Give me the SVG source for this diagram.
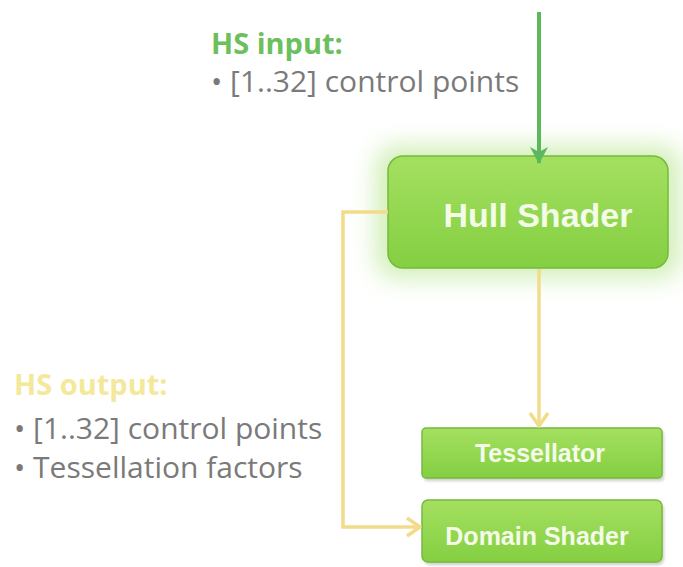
<svg xmlns="http://www.w3.org/2000/svg" width="683" height="567" viewBox="0 0 683 567">
<defs>
<linearGradient id="g" x1="0" y1="0" x2="0" y2="1">
<stop offset="0" stop-color="#a4e060"/>
<stop offset="1" stop-color="#84cf42"/>
</linearGradient>
<filter id="glow" x="-30%" y="-40%" width="160%" height="180%">
<feGaussianBlur stdDeviation="12"/>
</filter>
<filter id="sh" x="-10%" y="-20%" width="120%" height="150%">
<feGaussianBlur stdDeviation="1.5"/>
</filter>
<marker id="ay" markerWidth="20" markerHeight="22" refX="15" refY="11" orient="auto" markerUnits="userSpaceOnUse">
<path d="M2,2 L15,11 L2,20" fill="none" stroke="#f2dc8c" stroke-width="3.5" stroke-linejoin="round"/>
</marker>
<marker id="ag" markerWidth="20" markerHeight="22" refX="16" refY="11" orient="auto" markerUnits="userSpaceOnUse">
<path d="M0,2 L17,11 L0,20 L5,11 Z" fill="#5cb85c"/>
</marker>
</defs>
<style>
.box{fill:url(#g);stroke:#78b83e;stroke-width:1.5}
.lbl{font-family:"Liberation Sans",Arial,sans-serif;font-weight:bold;fill:#f4fbe8;text-anchor:middle}
.txt{font-family:"Open Sans","Liberation Sans",sans-serif;font-size:30px;fill:#7a7a7a}
.yl{fill:none;stroke:#f2dc8c;stroke-width:3.5}
</style>
<rect width="683" height="567" fill="#ffffff"/>
<text x="211" y="54" font-family="Open Sans, Liberation Sans, sans-serif" font-size="29" font-weight="bold" fill="#6cbf5c">HS input:</text>
<text class="txt" x="211" y="92">• [1..32] control points</text>
<text x="14" y="395" font-family="Open Sans, Liberation Sans, sans-serif" font-size="29" font-weight="bold" fill="#f4e89a">HS output:</text>
<text class="txt" x="14" y="439">• [1..32] control points</text>
<text class="txt" x="14" y="478">• Tessellation factors</text>
<g id="hull">
<rect x="376" y="146" width="304" height="132" rx="20" fill="#c8eca8" opacity="0.85" filter="url(#glow)"/>
<rect class="box" x="388" y="156" width="280" height="112" rx="15"/>
<text class="lbl" x="538" y="227" font-size="34">Hull Shader</text>
</g>
<g id="tessellator">
<rect x="424" y="431" width="240" height="50" rx="4" fill="#9aa08a" opacity="0.5" filter="url(#sh)"/>
<rect class="box" x="422" y="428" width="240" height="50" rx="4"/>
<text class="lbl" x="540" y="462" font-size="25">Tessellator</text>
</g>
<g id="domain">
<rect x="424" y="503" width="240" height="62" rx="6" fill="#9aa08a" opacity="0.5" filter="url(#sh)"/>
<rect class="box" x="422" y="500" width="240" height="62" rx="6"/>
<text class="lbl" x="537" y="545" font-size="25">Domain Shader</text>
</g>
<g id="connectors">
<line x1="539" y1="12" x2="539" y2="163" stroke="#5cb85c" stroke-width="4" marker-end="url(#ag)"/>
<line class="yl" x1="539" y1="269" x2="539" y2="426" marker-end="url(#ay)"/>
<polyline class="yl" points="388,212 343,212 343,527 420,527" marker-end="url(#ay)"/>
</g>
</svg>
